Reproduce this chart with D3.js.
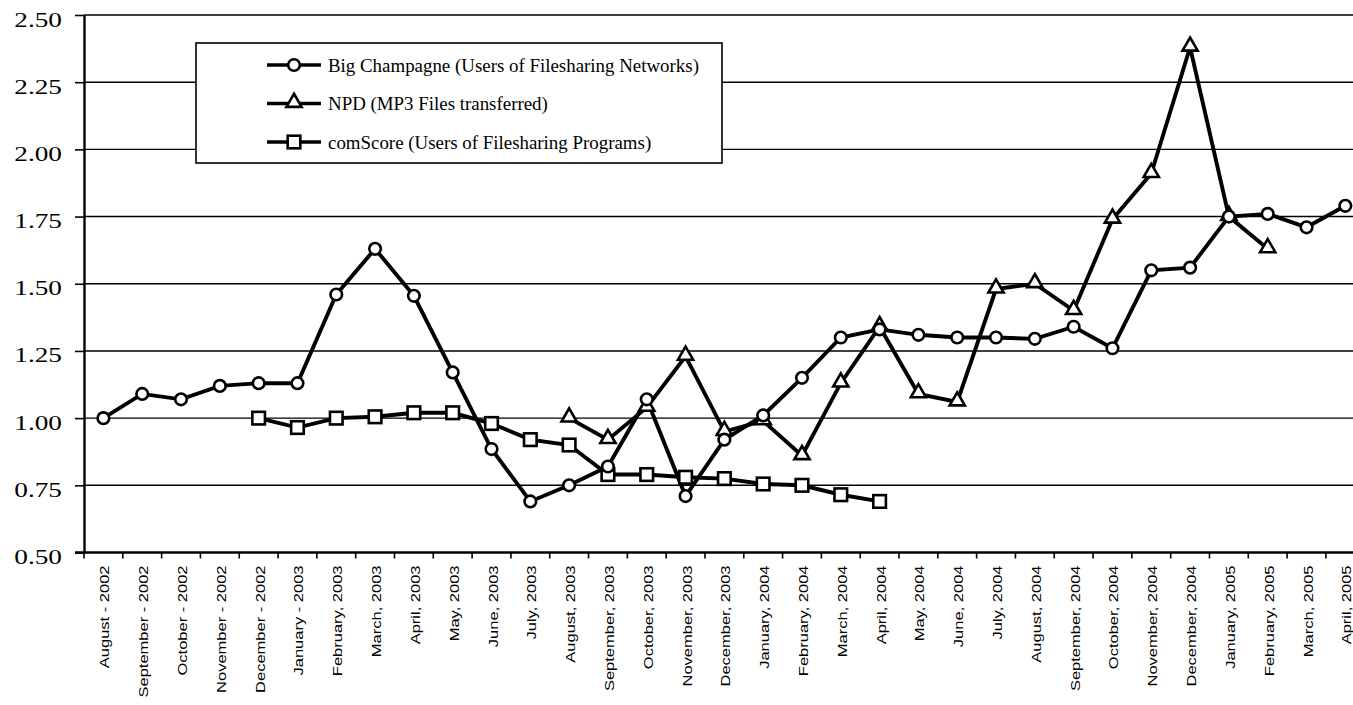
<!DOCTYPE html>
<html>
<head>
<meta charset="utf-8">
<script src="https://cdn.jsdelivr.net/npm/d3@7"></script>
<style>
    html, body { margin: 0; padding: 0; background: #fff; }
    svg { display: block; }
</style>
</head>
<body>
<script>
const months = [
    'August - 2002', 'September - 2002', 'October - 2002', 'November - 2002',
    'December - 2002', 'January - 2003', 'February, 2003', 'March, 2003',
    'April, 2003', 'May, 2003', 'June, 2003', 'July, 2003', 'August, 2003',
    'September, 2003', 'October, 2003', 'November, 2003', 'December, 2003',
    'January, 2004', 'February, 2004', 'March, 2004', 'April, 2004',
    'May, 2004', 'June, 2004', 'July, 2004', 'August, 2004', 'September, 2004',
    'October, 2004', 'November, 2004', 'December, 2004', 'January, 2005',
    'February, 2005', 'March, 2005', 'April, 2005'];

// null = no observation for that month
const bigChampagne = [
    1.00, 1.09, 1.07, 1.12, 1.13, 1.13, 1.46, 1.63, 1.455, 1.17,
    0.885, 0.69, 0.75, 0.82, 1.07, 0.71, 0.92, 1.01, 1.15, 1.30,
    1.33, 1.31, 1.30, 1.30, 1.295, 1.34, 1.26, 1.55, 1.56, 1.75,
    1.76, 1.71, 1.79];

const npd = [
    null, null, null, null, null, null, null, null, null, null, null, null,
    1.00, 0.92, 1.04, 1.23, 0.95, 0.99, 0.86, 1.13, 1.34, 1.09, 1.06,
    1.48, 1.50, 1.40, 1.74, 1.91, 2.38, 1.75, 1.63, null, null];

const comScore = [
    null, null, null, null,
    1.00, 0.965, 1.00, 1.005, 1.02, 1.02, 0.98, 0.92, 0.90, 0.79, 0.79,
    0.78, 0.775, 0.755, 0.75, 0.715, 0.69,
    null, null, null, null, null, null, null, null, null, null, null, null];

const yTicks = [0.50, 0.75, 1.00, 1.25, 1.50, 1.75, 2.00, 2.25, 2.50];

const seriesNames = [
    'Big Champagne (Users of Filesharing Networks)',
    'NPD (MP3 Files transferred)',
    'comScore (Users of Filesharing Programs)'];

const W = 1353, H = 705;
const plotLeft = 84, plotTop = 15, plotBottom = 552.5;
const step = 38.81;

const x = d3.scaleBand().
    domain(months).
    range([plotLeft, plotLeft + step * months.length]);

const y = d3.scaleLinear().
    domain([0.5, 2.5]).
    range([plotBottom, plotTop]);

const cx = i => x(months[i]) + x.bandwidth() / 2;

const svg = d3.select('body').
    append('svg').
    attr('width', W).
    attr('height', H);

// horizontal gridlines
svg.append('g').
    selectAll('line').
    data(yTicks.slice(1)).
    enter().append('line').
    attr('x1', plotLeft).
    attr('x2', W).
    attr('y1', d => y(d)).
    attr('y2', d => y(d)).
    attr('stroke', '#000').
    attr('stroke-width', 1.4);

// y axis
const yAxis = svg.append('g').
    attr('transform', `translate(${plotLeft},0)`).
    call(d3.axisLeft(y).
        tickValues(yTicks).
        tickFormat(d3.format('.2f')).
        tickSize(9).
        tickSizeOuter(0));
yAxis.select('.domain').attr('stroke-width', 2.4);
yAxis.selectAll('.tick line').attr('stroke-width', 1.6);
yAxis.selectAll('.tick text').
    attr('x', null).
    attr('dy', null).
    attr('transform', 'translate(-22,11) scale(1.24,1)').
    attr('font-family', '"Liberation Serif", "Times New Roman", serif').
    attr('font-size', 22).
    attr('fill', '#000');

// x axis: labels from the band scale, ticks on the band edges
const xAxis = svg.append('g').
    attr('transform', `translate(0,${plotBottom})`).
    call(d3.axisBottom(x).tickSize(0).tickSizeOuter(0));
xAxis.select('.domain').remove();
xAxis.selectAll('.tick text').
    attr('y', null).
    attr('dy', null).
    attr('text-anchor', 'end').
    attr('transform', 'translate(6,13) rotate(-90) scale(1.27,1)').
    attr('font-family', '"Liberation Sans", Arial, sans-serif').
    attr('font-size', 13).
    attr('fill', '#000');

const edges = months.map(m => x(m));
svg.append('g').
    selectAll('line').
    data(edges).
    enter().append('line').
    attr('x1', d => d).
    attr('x2', d => d).
    attr('y1', plotBottom).
    attr('y2', plotBottom + 6).
    attr('stroke', '#000').
    attr('stroke-width', 1.6);

svg.append('line').
    attr('x1', plotLeft - 9).
    attr('x2', W).
    attr('y1', plotBottom).
    attr('y2', plotBottom).
    attr('stroke', '#000').
    attr('stroke-width', 2.4);

// series
const line = d3.line().
    defined(d => d != null).
    x((d, i) => cx(i)).
    y(d => y(d));

const drawLine = values => svg.append('path').
    datum(values).
    attr('d', line).
    attr('fill', 'none').
    attr('stroke', '#000').
    attr('stroke-width', 3.9).
    attr('stroke-linejoin', 'miter');

drawLine(comScore);
drawLine(npd);
drawLine(bigChampagne);

const points = values => values.
    map((v, i) => ({ v, i })).
    filter(d => d.v != null);

const triangle = d3.symbol().type(d3.symbolTriangle).size(100);

const drawSquares = (g, data) => g.selectAll('rect').
    data(data).
    enter().append('rect').
    attr('x', d => d.x - 6.3).
    attr('y', d => d.y - 6.3).
    attr('width', 12.6).
    attr('height', 12.6).
    attr('fill', '#fff').
    attr('stroke', '#000').
    attr('stroke-width', 2.6);

const drawTriangles = (g, data) => g.selectAll('path').
    data(data).
    enter().append('path').
    attr('d', triangle).
    attr('transform', d => `translate(${d.x},${d.y - 1})`).
    attr('fill', '#fff').
    attr('stroke', '#000').
    attr('stroke-width', 2.6);

const drawCircles = (g, data) => g.selectAll('circle').
    data(data).
    enter().append('circle').
    attr('cx', d => d.x).
    attr('cy', d => d.y).
    attr('r', 5.8).
    attr('fill', '#fff').
    attr('stroke', '#000').
    attr('stroke-width', 2.6);

const toXY = values => points(values).map(d => ({ x: cx(d.i), y: y(d.v) }));

drawSquares(svg.append('g'), toXY(comScore));
drawTriangles(svg.append('g'), toXY(npd));
drawCircles(svg.append('g'), toXY(bigChampagne));

// legend
const legend = svg.append('g');
legend.append('rect').
    attr('x', 196).
    attr('y', 43).
    attr('width', 526).
    attr('height', 120).
    attr('fill', '#fff').
    attr('stroke', '#000').
    attr('stroke-width', 1.6);

const rowY = [65, 103.5, 142];
const drawers = [drawCircles, drawTriangles, drawSquares];

seriesNames.forEach((name, k) => {
    const row = legend.append('g');
    row.append('line').
        attr('x1', 267).
        attr('x2', 321).
        attr('y1', rowY[k]).
        attr('y2', rowY[k]).
        attr('stroke', '#000').
        attr('stroke-width', 3.4);
    drawers[k](row, [{ x: 294, y: rowY[k] }]);
    row.append('text').
        attr('x', 328).
        attr('y', rowY[k]).
        attr('dy', '0.35em').
        attr('font-family', '"Liberation Serif", "Times New Roman", serif').
        attr('font-size', 18.9).
        attr('fill', '#000').
        text(name);
});
</script>
</body>
</html>
